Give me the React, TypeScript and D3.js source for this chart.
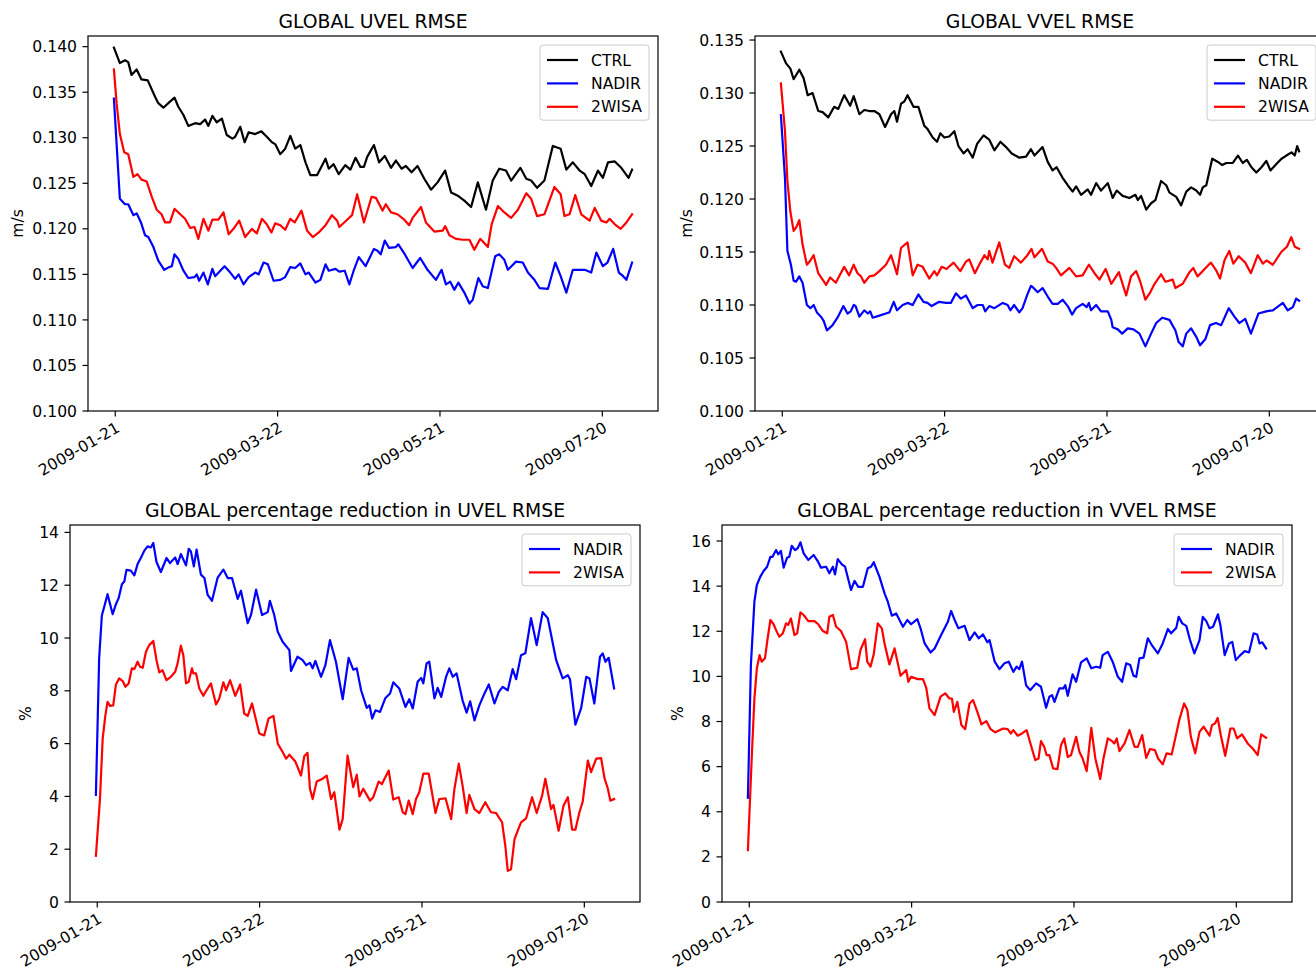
import React from "react";
import * as d3 from "d3";

// Day offsets are counted from 2009-01-21 (first labelled date).
type Pt = [number, number];

const uvelCtrl: Pt[] = [[-0.5,0.1399],[1.7,0.1382],[3.6,0.1385],[4.8,0.1383],[6,0.1369],[7.9,0.1375],[9.7,0.1364],[12,0.1363],[14.7,0.1345],[15.9,0.1338],[17.8,0.1333],[19.6,0.1338],[21.9,0.1344],[23.3,0.1334],[25.2,0.1325],[27,0.1313],[29.5,0.1316],[31.4,0.1315],[33.2,0.132],[34.4,0.1313],[35.9,0.1324],[37.5,0.1317],[39.4,0.1321],[41.2,0.1303],[43.3,0.1299],[44.3,0.1301],[46.2,0.1312],[47.8,0.1295],[49.3,0.1306],[51.7,0.1304],[54,0.1307],[56,0.1301],[57.9,0.1295],[59.1,0.1293],[61,0.1282],[62.8,0.1288],[64.7,0.1302],[66.5,0.1288],[68.4,0.1292],[70.3,0.1273],[72.1,0.1259],[74.6,0.1259],[75.8,0.1266],[77.7,0.1277],[78.9,0.1266],[80.7,0.1271],[82.6,0.126],[85,0.127],[86.9,0.1265],[88.8,0.1278],[90.6,0.1268],[91.9,0.1268],[93.1,0.1279],[95.6,0.1292],[97.5,0.1273],[99.6,0.128],[101.9,0.1267],[103.7,0.1275],[105.8,0.1266],[107.4,0.1269],[109.5,0.1262],[111.7,0.1269],[114.2,0.1255],[116.7,0.1243],[119.1,0.1251],[121.9,0.1264],[124.1,0.124],[126.8,0.1236],[129,0.1231],[131.5,0.1224],[134,0.1251],[137,0.1221],[139.5,0.1253],[141.9,0.1266],[144.4,0.1264],[146.3,0.1253],[149.7,0.1267],[151.9,0.1255],[153.7,0.1253],[155.9,0.1245],[158.6,0.1253],[161.7,0.1291],[164.6,0.1288],[166.7,0.1265],[169.1,0.1273],[171.6,0.1264],[173.5,0.126],[175.9,0.1247],[178.4,0.1264],[180.2,0.1256],[182.1,0.1273],[184.6,0.1274],[187,0.1267],[189.7,0.1256],[191,0.1265]];

const uvelNadir: Pt[] = [[-0.5,0.1343],[0.5,0.1293],[1.7,0.1233],[3.6,0.1227],[4.8,0.1227],[6.7,0.1215],[7.9,0.1217],[9.5,0.1207],[11,0.1193],[12.2,0.1191],[14.1,0.118],[15.9,0.1165],[18.1,0.1155],[19.9,0.1158],[20.9,0.1159],[21.9,0.1172],[23.3,0.1167],[25.2,0.1154],[27,0.1146],[29.3,0.1147],[30.1,0.115],[31,0.1143],[32.6,0.1152],[34.2,0.1139],[35.9,0.1156],[36.9,0.1148],[38.8,0.1154],[40.4,0.1159],[42.5,0.1152],[44.3,0.1145],[45.6,0.115],[47.4,0.1139],[49.3,0.1147],[51.7,0.1152],[53,0.115],[54.8,0.1163],[56.4,0.1161],[58.5,0.1143],[61,0.1144],[62.8,0.1147],[64.7,0.1158],[66.5,0.1157],[68.4,0.1162],[70.3,0.115],[71.5,0.1152],[74,0.1141],[75.8,0.1144],[77.7,0.1161],[78.9,0.1154],[81.4,0.1156],[82.8,0.1153],[84.8,0.1154],[86.5,0.1139],[88.1,0.1154],[90,0.1169],[92.5,0.1159],[95.6,0.1178],[96.9,0.1176],[98.1,0.1172],[99.6,0.1187],[101.2,0.1179],[103.7,0.118],[104.6,0.1183],[106.8,0.1173],[109.9,0.1157],[112.7,0.1168],[115.4,0.1155],[118.5,0.1144],[120.6,0.1155],[122.2,0.1139],[123.8,0.1142],[125.3,0.1133],[126.8,0.1141],[129,0.113],[130.9,0.1118],[132.1,0.1122],[134.2,0.1146],[135.8,0.1137],[137.7,0.1135],[140.4,0.117],[141.9,0.1172],[143.8,0.1166],[145.1,0.1155],[148.1,0.1164],[150.6,0.1163],[152.5,0.1152],[154.9,0.1144],[156.8,0.1135],[159.9,0.1134],[162.6,0.1163],[164.6,0.1148],[166.7,0.113],[169.1,0.1155],[171,0.1155],[173.5,0.1155],[175.9,0.1152],[177.8,0.1174],[180.2,0.1159],[181.9,0.1163],[184,0.1178],[186.1,0.1152],[187.7,0.1148],[188.9,0.1144],[191,0.1163]];

const uvel2wisa: Pt[] = [[-0.5,0.1375],[0.5,0.1338],[1.7,0.1304],[3.3,0.1284],[4.8,0.1282],[6.7,0.1257],[8.2,0.126],[9.7,0.1254],[11.6,0.1252],[13.5,0.1235],[15.3,0.1221],[17.1,0.1216],[18.4,0.1207],[20.2,0.1207],[21.9,0.1222],[24,0.1216],[25.8,0.1211],[27.7,0.1201],[29.3,0.1202],[30.7,0.1189],[32.6,0.1211],[34.4,0.1198],[35.9,0.121],[38.1,0.121],[40,0.1218],[41.9,0.1194],[43.7,0.12],[45.8,0.1209],[48,0.1191],[50.5,0.12],[52.3,0.1195],[54.2,0.1211],[56,0.1205],[57.7,0.1196],[59.1,0.1206],[61,0.1204],[62.8,0.1199],[64.7,0.1211],[66.3,0.1207],[68.8,0.122],[70.9,0.1198],[73,0.1191],[75.2,0.1196],[77.7,0.1204],[80.1,0.1215],[82,0.1209],[82.8,0.1202],[85,0.1208],[87.5,0.1215],[89.4,0.1238],[91.9,0.1207],[94.7,0.1235],[96.3,0.1234],[98.8,0.122],[100,0.1227],[101.9,0.1218],[104.3,0.1216],[106.8,0.121],[108.6,0.1204],[109.9,0.1212],[113,0.1224],[114.8,0.1207],[117.9,0.1197],[121,0.1198],[121.9,0.1203],[123.5,0.1193],[125.9,0.1189],[128.4,0.1188],[130.9,0.1188],[132.7,0.1177],[134.9,0.1189],[137.7,0.118],[139.1,0.1205],[141.4,0.1225],[143.8,0.1218],[146.3,0.1212],[148.8,0.1221],[151.9,0.1239],[153.7,0.1233],[155.9,0.1214],[158.6,0.1216],[162.3,0.1246],[164.6,0.1238],[166,0.1214],[167.9,0.1216],[170,0.1237],[172.2,0.1216],[175.3,0.1209],[177.2,0.1223],[179.6,0.1209],[181.5,0.1207],[182.7,0.1211],[184.6,0.1205],[186.8,0.12],[188.9,0.1207],[191,0.1216]];

const vvelCtrl: Pt[] = [[-0.5,0.1339],[1.4,0.1328],[3,0.1323],[4.2,0.1313],[6.3,0.1322],[7.9,0.1314],[9.4,0.1298],[11.2,0.13],[13.3,0.1283],[14.9,0.1282],[17,0.1277],[19.2,0.1287],[20.7,0.1285],[22.9,0.1298],[25.1,0.1288],[26.4,0.1297],[28.5,0.128],[30.3,0.1284],[32.2,0.1283],[34,0.1283],[35.9,0.128],[38,0.1268],[40.2,0.128],[41.4,0.1283],[42.4,0.1273],[43.9,0.129],[45.1,0.1292],[46.3,0.1298],[48.5,0.1287],[50.3,0.1287],[52.5,0.1269],[53.7,0.1266],[55.6,0.1258],[57.2,0.1254],[58.4,0.1262],[59.9,0.1258],[61.7,0.1259],[63.6,0.1264],[65.1,0.125],[67,0.1243],[68.5,0.1247],[70.4,0.1239],[72,0.1252],[74.4,0.126],[76.5,0.1256],[78.4,0.1246],[80.6,0.1254],[82.7,0.1249],[84.8,0.1243],[87.6,0.1239],[90.1,0.124],[91.9,0.1247],[93.2,0.1241],[96.2,0.1249],[98.1,0.1235],[99.9,0.1227],[101.4,0.123],[103.6,0.122],[105.5,0.1213],[107.3,0.1207],[108.6,0.1212],[110.4,0.1204],[112.9,0.1209],[114.1,0.1204],[116,0.1215],[117.8,0.1208],[120.3,0.1215],[122.1,0.1201],[123.6,0.1208],[125.8,0.1203],[128.3,0.1201],[130.5,0.1204],[131.4,0.1199],[132.6,0.1203],[134.5,0.119],[136.3,0.1196],[137.9,0.1199],[140,0.1217],[141.9,0.1213],[143.1,0.1206],[145.6,0.1202],[147.4,0.1194],[149.3,0.1207],[151.1,0.1211],[153,0.1208],[154.4,0.1204],[155.4,0.1211],[156.7,0.1213],[158.9,0.1238],[161,0.1235],[162.6,0.1232],[164.1,0.1234],[166.5,0.1234],[168.4,0.1241],[170.2,0.1234],[171.7,0.1237],[173.4,0.123],[175.2,0.1225],[177.1,0.123],[178.9,0.1236],[180.4,0.1227],[182.6,0.1233],[184.5,0.1238],[186.3,0.1241],[188.2,0.1244],[189.4,0.1241],[190.3,0.125],[191,0.1245]];

const vvelNadir: Pt[] = [[-0.5,0.1279],[1,0.122],[1.9,0.1151],[3.2,0.1138],[4.2,0.1123],[5.1,0.1122],[6.3,0.1127],[7.5,0.1121],[9.1,0.11],[10.4,0.1097],[11.6,0.11],[12.8,0.1093],[14.3,0.1089],[15.3,0.1085],[16.5,0.1076],[18.6,0.1081],[20.4,0.1088],[22.6,0.1099],[24.1,0.1092],[25.3,0.1094],[26.4,0.11],[27.1,0.1099],[28.5,0.1089],[30.3,0.1095],[31.6,0.1092],[32.5,0.1094],[33.4,0.1088],[35.9,0.109],[38.3,0.1092],[39.6,0.1093],[41.2,0.1103],[42.4,0.1095],[44.5,0.11],[46.3,0.1102],[48.2,0.11],[50.3,0.111],[52.2,0.1103],[53.7,0.1102],[55.2,0.1099],[58,0.1103],[60.5,0.1102],[62.3,0.1102],[64.2,0.1111],[66,0.1106],[67.9,0.1109],[70.4,0.1097],[72.2,0.11],[74.1,0.11],[75,0.1094],[76.5,0.1099],[78.4,0.1097],[81.5,0.1102],[83.3,0.11],[84.3,0.1095],[85.7,0.11],[87.6,0.1093],[88.8,0.1097],[90.6,0.111],[91.9,0.1118],[92.5,0.1117],[94.4,0.1112],[96.2,0.1116],[98.1,0.1108],[99.9,0.1101],[101.8,0.1101],[103.6,0.1105],[105.5,0.1099],[107.1,0.1091],[108.6,0.1097],[111,0.1101],[112.5,0.1098],[113.3,0.1102],[114.1,0.1095],[116,0.11],[117.8,0.1094],[120.3,0.1094],[121.6,0.1086],[122.1,0.1079],[124,0.1077],[125.6,0.1073],[127.7,0.1078],[129.8,0.1077],[132,0.1073],[134.2,0.1061],[136.3,0.1073],[138.2,0.1083],[140.4,0.1088],[143.1,0.1086],[145.3,0.1076],[146.5,0.1065],[148,0.1061],[149.3,0.1073],[151.1,0.1078],[153,0.107],[154.4,0.1062],[156.4,0.1068],[158.1,0.1081],[160.3,0.1083],[162.2,0.1081],[165,0.1097],[167.1,0.1089],[168.9,0.1083],[171.1,0.1087],[173.2,0.1073],[176,0.1092],[178.8,0.1094],[181.3,0.1095],[185,0.1102],[186.8,0.1095],[188.7,0.1098],[189.9,0.1106],[191,0.1104]];

const vvel2wisa: Pt[] = [[-0.5,0.1309],[1,0.1264],[1.9,0.1217],[3,0.1188],[4.2,0.117],[5.1,0.1173],[6.3,0.118],[7.5,0.1157],[9.1,0.1138],[10.4,0.1142],[11.6,0.1147],[13.3,0.113],[14.9,0.1124],[16.2,0.1119],[17.7,0.1126],[19.8,0.1121],[21.4,0.1129],[22.9,0.1136],[24.7,0.1128],[26.4,0.1138],[27.8,0.113],[29.1,0.1127],[30.3,0.1121],[32.2,0.1127],[34,0.1128],[35.9,0.1132],[38.3,0.1138],[40.2,0.1147],[42.4,0.1129],[43.9,0.1154],[46.3,0.1159],[48.2,0.1128],[50,0.1138],[51.9,0.1136],[54.3,0.1125],[56.2,0.1132],[57.2,0.1128],[58.9,0.1136],[60.7,0.1134],[63.3,0.114],[65.8,0.1132],[67.9,0.1141],[69.1,0.1143],[71.2,0.113],[73.2,0.114],[74.7,0.1147],[75.9,0.1143],[76.5,0.1151],[77.7,0.114],[80.2,0.1159],[82.3,0.1138],[83.9,0.1135],[85.7,0.1146],[88.2,0.114],[90.6,0.1147],[92.1,0.1153],[93.2,0.1145],[96,0.1153],[98.1,0.1141],[99.9,0.1139],[101.2,0.1135],[103,0.1128],[106.1,0.1135],[108.6,0.1127],[111,0.1128],[113.3,0.1138],[115.4,0.113],[117.2,0.1124],[119.5,0.1134],[121.6,0.112],[124.4,0.1131],[127.1,0.1109],[128.9,0.1127],[130.8,0.1132],[132.3,0.1122],[134.2,0.1105],[136,0.1112],[137.6,0.112],[140,0.1129],[141.6,0.1122],[144.3,0.1124],[145.3,0.1116],[148,0.112],[150.5,0.1131],[151.9,0.1135],[153.5,0.1127],[155.4,0.1132],[158.4,0.114],[160.3,0.1133],[161.8,0.1125],[163.4,0.1142],[165.2,0.1151],[166.7,0.1139],[168.7,0.1146],[171.1,0.114],[173.2,0.113],[175.7,0.1147],[177.6,0.1139],[179,0.1142],[181.3,0.1138],[184.4,0.115],[186.5,0.1155],[188.1,0.1164],[189.4,0.1155],[191,0.1153]];

const uPctNadir: Pt[] = [[-0.5,4.06],[0.7,9.23],[1.7,10.85],[2.6,11.19],[3.8,11.66],[5.7,10.9],[6.9,11.28],[7.9,11.51],[9.1,12.04],[10,12.14],[10.8,12.58],[12.4,12.55],[13.7,12.37],[14.9,12.8],[16.1,13.03],[17.4,13.31],[18.6,13.47],[19.8,13.43],[20.7,13.6],[21.9,12.88],[23.5,12.5],[25.6,13.03],[26.9,12.84],[28.8,13.05],[29.7,12.8],[30.9,13.18],[32.8,12.75],[33.8,13.38],[34.6,13.28],[35.7,12.71],[36.7,13.35],[38.3,12.4],[39.6,12.27],[40.8,11.63],[42.4,11.41],[44.5,12.29],[46.6,12.59],[48.2,12.27],[49.8,12.27],[51.9,11.48],[53.1,11.79],[55.6,10.56],[56.8,10.87],[58.7,11.83],[60.9,10.87],[63,10.98],[63.8,11.41],[65.4,10.87],[66.7,10.24],[68.5,9.86],[71,9.54],[71.6,8.75],[74,9.29],[75.9,9.16],[77.2,8.97],[78.6,9.06],[79.6,8.85],[80.6,9.13],[82.7,8.53],[84.3,8.97],[86,9.92],[88.2,9.1],[90.7,7.68],[92.9,9.25],[94.6,8.8],[95.9,8.85],[97.5,8.02],[99.6,7.35],[100.6,7.45],[101.6,6.95],[102.8,7.26],[104.5,7.2],[106.5,7.73],[108.2,7.9],[109.4,8.32],[111.6,8.09],[113.9,7.39],[115.3,7.68],[116.6,7.33],[118.4,8.34],[119.7,8.49],[120.5,8.28],[121.7,9.04],[122.7,9.1],[124.6,7.71],[125.8,8.11],[127.1,7.77],[128.9,8.53],[130.1,8.85],[131.4,8.53],[132.8,8.66],[135,7.64],[136.5,7.17],[137.8,7.6],[139.4,6.88],[141.2,7.45],[143.1,7.9],[144.7,8.24],[146.8,7.52],[148.4,7.96],[149.8,8.15],[151.7,8.02],[153.5,8.82],[154.8,8.44],[156.6,9.35],[158.2,9.42],[160.3,10.75],[162.4,9.73],[164.6,10.98],[166.5,10.75],[169.6,9.16],[172,8.47],[173.9,8.59],[174.7,8.44],[176.7,6.72],[178.8,7.33],[180.7,8.53],[181.9,8.47],[183.7,7.52],[185.8,9.29],[186.8,9.42],[187.8,9.1],[189,9.25],[191,8.09]];

const uPct2wisa: Pt[] = [[-0.5,1.75],[1,3.9],[2,6.19],[3,7.07],[3.8,7.58],[4.7,7.43],[5.9,7.45],[6.9,8.24],[8.1,8.47],[9.4,8.37],[10.4,8.15],[11.6,8.28],[12.8,8.85],[13.7,8.82],[14.9,9.1],[15.8,8.91],[16.8,8.87],[18,9.48],[19.2,9.73],[20.7,9.89],[21.9,9.16],[22.9,8.7],[24.1,8.78],[25.6,8.4],[27.2,8.53],[28.8,8.72],[29.7,9.04],[30.9,9.71],[31.8,9.35],[32.8,8.28],[33.8,8.34],[35,8.85],[35.5,8.66],[36.5,8.66],[37.7,8.09],[39.2,7.81],[40.4,8.02],[42,8.28],[43.9,7.48],[45.1,7.71],[46.6,8.32],[47.6,8.02],[49.1,8.4],[51,7.81],[52.8,8.24],[54.3,7.14],[55.6,7.05],[57.2,7.52],[59.9,6.38],[61.7,6.31],[63.3,6.95],[65.1,7.05],[66.7,6],[68.5,5.68],[69.8,5.43],[71,5.58],[73.2,5.32],[75.3,4.79],[76.5,5.52],[77.7,5.65],[78.6,4.29],[79.6,3.9],[81.1,4.56],[83.3,4.67],[84.8,4.79],[86.4,3.9],[87.6,4.16],[89.5,2.74],[90.7,3.14],[92.5,5.55],[94.6,4.35],[95.9,4.82],[96.9,4],[98.3,4.29],[100.8,3.84],[102,3.97],[104,4.56],[105.2,4.47],[107.7,4.98],[109.4,3.88],[111.4,3.97],[112.9,3.4],[113.9,3.33],[115.1,3.84],[116.6,3.33],[117.8,3.9],[119,4.16],[120.5,4.86],[122.5,4.86],[125,3.37],[126.4,3.9],[128.7,3.93],[130.8,3.14],[132,4.29],[133.6,5.24],[135,4.41],[136.5,3.37],[137.5,4.06],[139.4,3.52],[141.2,3.37],[143.4,3.78],[145.5,3.4],[147.4,3.37],[149.6,3.02],[150.8,2.13],[151.7,1.18],[152.9,1.24],[154.2,2.38],[155.4,2.7],[156.6,3.02],[158.5,3.17],[160.7,3.97],[162.4,3.37],[164.4,4.03],[165.6,4.67],[167.7,3.52],[168.6,3.68],[170.5,2.7],[172.3,3.65],[173.9,3.97],[175.5,2.74],[176.7,2.74],[178.2,3.4],[179.4,3.8],[181.3,5.36],[182.5,4.92],[184.4,5.43],[186.2,5.45],[187.5,4.67],[188.7,4.29],[189.6,3.84],[191,3.9]];

const vPctNadir: Pt[] = [[-0.5,4.62],[0.6,10.5],[1.9,13.31],[2.8,14.05],[4.1,14.42],[5.3,14.67],[6.6,14.86],[7.8,15.3],[8.6,15.3],[9.9,15.6],[10.7,15.41],[11.7,15.56],[12.7,14.82],[14,15.26],[14.8,15.3],[15.7,15.79],[16.9,15.6],[17.9,15.68],[18.9,15.94],[20.1,15.45],[21.8,15.16],[23.8,15.38],[25.3,15.11],[26.5,14.82],[28.4,14.86],[29.6,14.57],[30.9,14.86],[31.7,14.52],[32.7,15.2],[34.2,14.97],[35.4,14.86],[37.6,13.83],[38.9,14.23],[40.3,13.97],[42,13.97],[43.8,14.79],[45,14.86],[46,15.06],[48.1,14.42],[50,13.68],[51.2,13.31],[52.7,12.69],[54.3,12.79],[56.8,12.2],[58.4,12.5],[59.8,12.31],[62.1,12.54],[63.3,12.13],[64.8,11.46],[67,11.06],[68.5,11.24],[70.9,11.83],[73.4,12.42],[74.6,12.9],[75.9,12.5],[77.3,12.13],[79.6,12.24],[81.4,11.61],[83.3,11.95],[84.8,11.69],[86.4,11.86],[88,11.51],[88.8,11.61],[90.7,10.65],[92.5,10.32],[94.3,10.58],[95.9,10.65],[97.6,10.2],[98.8,10.43],[99.8,10.32],[100.8,10.65],[102.3,9.61],[103.8,9.39],[106,9.69],[107.8,9.54],[109.7,8.61],[110.9,9.1],[111.9,9.17],[112.8,8.87],[114.6,9.47],[116.1,9.47],[116.8,9.61],[117.7,9.14],[119.5,10.09],[120.8,9.76],[122.6,10.62],[124.7,10.8],[126.4,10.36],[128.2,10.43],[129.7,10.38],[130.6,10.94],[132.5,11.09],[134.3,10.65],[136.2,9.98],[137.8,9.76],[139.3,10.58],[140.8,10.5],[142,10.03],[143,9.98],[144.2,10.8],[145.7,10.83],[147.3,11.69],[148.9,11.36],[151,11.02],[152.8,11.46],[154.7,12.1],[155.9,11.91],[157.8,12.15],[158.7,12.64],[160,12.35],[161.5,12.24],[162.9,11.61],[164.5,11.02],[166.4,11.61],[167.6,12.64],[168.9,12.45],[170.1,12.13],[171.4,12.2],[173.2,12.75],[174.1,12.28],[175.7,10.94],[177.3,11.46],[178.5,11.53],[179.8,10.72],[181.2,10.91],[183.1,11.12],[184.7,11.06],[186.4,11.91],[187.7,11.86],[188.6,11.46],[189.6,11.51],[191,11.24]];

const vPct2wisa: Pt[] = [[-0.5,2.3],[0.9,6.36],[1.9,9.02],[2.8,10.35],[3.8,10.94],[4.6,10.65],[5.8,10.8],[6.8,11.69],[7.8,12.5],[9,12.31],[9.9,12.05],[11.1,11.76],[12.4,11.91],[13.6,12.35],[14.4,12.28],[15.4,12.57],[16.7,11.83],[17.7,11.91],[18.9,12.84],[20.1,12.72],[21.8,12.45],[24.1,12.45],[25.5,12.31],[27.2,12.01],[28.8,11.91],[29.6,12.64],[30.9,12.72],[32.1,12.2],[33.9,12.01],[35.8,11.53],[37.6,10.32],[39.9,10.38],[41.1,11.17],[42.8,11.65],[43.6,10.65],[44.8,10.43],[46,10.98],[47.5,12.35],[49,12.13],[50,11.46],[51.8,10.53],[53.7,11.24],[55.9,10.03],[58,10.28],[58.8,9.76],[59.8,9.98],[62.3,9.88],[64.2,9.88],[65.4,9.49],[66.6,8.58],[68.5,8.28],[70.7,9.1],[72.4,9.25],[74,9.02],[74.9,9.02],[75.6,8.43],[76.9,8.87],[78.4,7.84],[79.8,7.66],[81.4,8.8],[82.7,8.95],[84.3,8.43],[85.8,7.87],[87.6,8.02],[89.2,7.66],[90.9,7.52],[93.8,7.69],[95.5,7.66],[96.7,7.47],[97.6,7.62],[99.2,7.37],[100.8,7.47],[102.5,7.62],[104.1,6.95],[105.7,6.29],[106.9,6.36],[107.8,7.13],[109,6.88],[109.9,6.51],[110.9,6.51],[112.3,5.92],[113.9,5.89],[115.2,6.95],[116.4,7.25],[117.7,6.43],[118.9,6.51],[120.8,7.32],[122,6.66],[123.2,6.36],[124.7,5.8],[126.4,7.72],[127.9,6.36],[129.7,5.45],[130.9,6.36],[132.5,7.25],[134.1,7.13],[134.9,7.03],[135.8,7.25],[136.8,6.69],[138.7,7.03],[140.5,7.62],[142.4,6.88],[143.6,6.88],[145.2,7.4],[146.7,6.39],[148.1,6.78],[149.9,6.73],[151.1,6.36],[152.8,6.1],[154.2,6.59],[156.1,6.54],[157.3,7.18],[158.9,8.06],[160.7,8.8],[161.9,8.51],[163.2,7.32],[164.8,6.59],[166.4,7.54],[167.9,7.77],[170.1,7.37],[171,7.84],[172.2,7.92],[173.1,8.16],[174.3,7.37],[175.9,6.48],[177.8,7.69],[179,7.69],[180.3,7.25],[182.1,7.43],[184.2,7.03],[186.2,6.78],[187.9,6.51],[189.2,7.43],[191,7.28]];

// Tick values and labels
const dateTickLabels = ["2009-01-21", "2009-03-22", "2009-05-21", "2009-07-20"];
const uvelTicks = [0.1, 0.105, 0.11, 0.115, 0.12, 0.125, 0.13, 0.135, 0.14];
const vvelTicks = [0.1, 0.105, 0.11, 0.115, 0.12, 0.125, 0.13, 0.135];
const uPctTicks = [0, 2, 4, 6, 8, 10, 12, 14];
const vPctTicks = [0, 2, 4, 6, 8, 10, 12, 14, 16];

const BASE = Date.UTC(2009, 0, 21);
const toDate = (d: number) => new Date(BASE + d * 864e5);
const parseTick = d3.utcParse("%Y-%m-%d");
const fmtTick = d3.utcFormat("%Y-%m-%d");

const FONT = "DejaVu Sans, Liberation Sans, sans-serif";
const TICK_FS = 15.6;
const TITLE_FS = 18.8;
const COLORS = { CTRL: "#000000", NADIR: "#0000ff", "2WISA": "#ff0000" } as Record<string, string>;

interface Series { name: string; data: Pt[] }
interface PanelSpec {
  title: string;
  ylabel: string;
  ylabelX: number;
  left: number;
  top: number;
  width: number;
  height: number;
  yMax: number;
  yMin: number;
  yTicks: number[];
  yFmt: (v: number) => string;
  series: Series[];
}

const panels: PanelSpec[] = [
  {
    title: "GLOBAL UVEL RMSE", ylabel: "m/s", ylabelX: 23,
    left: 88, top: 36, width: 570, height: 375,
    yMin: 0.1, yMax: 0.14117, yTicks: uvelTicks, yFmt: d3.format(".3f"),
    series: [
      { name: "CTRL", data: uvelCtrl },
      { name: "NADIR", data: uvelNadir },
      { name: "2WISA", data: uvel2wisa },
    ],
  },
  {
    title: "GLOBAL VVEL RMSE", ylabel: "m/s", ylabelX: 692,
    left: 755, top: 36, width: 570, height: 375,
    yMin: 0.1, yMax: 0.13538, yTicks: vvelTicks, yFmt: d3.format(".3f"),
    series: [
      { name: "CTRL", data: vvelCtrl },
      { name: "NADIR", data: vvelNadir },
      { name: "2WISA", data: vvel2wisa },
    ],
  },
  {
    title: "GLOBAL percentage reduction in UVEL RMSE", ylabel: "%", ylabelX: 31,
    left: 70, top: 525, width: 570, height: 377,
    yMin: 0, yMax: 14.28, yTicks: uPctTicks, yFmt: d3.format("d"),
    series: [
      { name: "NADIR", data: uPctNadir },
      { name: "2WISA", data: uPct2wisa },
    ],
  },
  {
    title: "GLOBAL percentage reduction in VVEL RMSE", ylabel: "%", ylabelX: 683,
    left: 722, top: 525, width: 570, height: 377,
    yMin: 0, yMax: 16.71, yTicks: vPctTicks, yFmt: d3.format("d"),
    series: [
      { name: "NADIR", data: vPctNadir },
      { name: "2WISA", data: vPct2wisa },
    ],
  },
];

function Panel({ p }: { p: PanelSpec }) {
  const right = p.left + p.width;
  const bottom = p.top + p.height;
  const allDays = p.series.flatMap((s) => s.data.map((d) => d[0]));
  const [d0, d1] = d3.extent(allDays) as [number, number];
  const pad = (d1 - d0) * 0.05;
  const x = d3.scaleUtc().domain([toDate(d0 - pad), toDate(d1 + pad)]).range([p.left, right]);
  const y = d3.scaleLinear().domain([p.yMin, p.yMax]).range([bottom, p.top]);
  const line = d3
    .line<Pt>()
    .x((d) => x(toDate(d[0])))
    .y((d) => y(d[1]));

  const legendW = 109;
  const rowH = 23.4;
  const legendH = 5 + rowH * p.series.length;
  const lx = right - 9 - legendW;
  const ly = p.top + 9;
  const clipId = `clip-${p.left}-${p.top}`;

  return (
    <g>
      <defs>
        <clipPath id={clipId}>
          <rect x={p.left} y={p.top} width={p.width} height={p.height} />
        </clipPath>
      </defs>
      <g clipPath={`url(#${clipId})`}>
        {p.series.map((s) => (
          <path
            key={s.name}
            d={line(s.data) || ""}
            fill="none"
            stroke={COLORS[s.name]}
            strokeWidth={2.2}
            strokeLinejoin="round"
            strokeLinecap="square"
          />
        ))}
      </g>
      <rect x={p.left} y={p.top} width={p.width} height={p.height} fill="none" stroke="#000" strokeWidth={1.2} />
      {p.yTicks.map((t) => (
        <g key={t}>
          <line x1={p.left - 5.5} x2={p.left} y1={y(t)} y2={y(t)} stroke="#000" strokeWidth={1.2} />
          <text x={p.left - 11} y={y(t)} dy="0.36em" textAnchor="end" fontSize={TICK_FS} fontFamily={FONT} fill="#000">
            {p.yFmt(t)}
          </text>
        </g>
      ))}
      {dateTickLabels.map((lbl) => {
        const dt = parseTick(lbl) as Date;
        const tx = x(dt);
        return (
          <g key={lbl}>
            <line x1={tx} x2={tx} y1={bottom} y2={bottom + 5.5} stroke="#000" strokeWidth={1.2} />
            <text
              transform={`translate(${tx},${bottom + 10}) rotate(-30)`}
              dy="0.73em"
              textAnchor="end"
              fontSize={TICK_FS}
              fontFamily={FONT}
              fill="#000"
            >
              {fmtTick(dt)}
            </text>
          </g>
        );
      })}
      <text x={(p.left + right) / 2} y={p.top - 8.5} textAnchor="middle" fontSize={TITLE_FS} fontFamily={FONT} fill="#000">
        {p.title}
      </text>
      <text
        transform={`translate(${p.ylabelX},${(p.top + bottom) / 2}) rotate(-90)`}
        textAnchor="middle"
        fontSize={TICK_FS}
        fontFamily={FONT}
        fill="#000"
      >
        {p.ylabel}
      </text>
      <g>
        <rect x={lx} y={ly} width={legendW} height={legendH} rx={3} ry={3} fill="#fff" fillOpacity={0.8} stroke="#cccccc" strokeWidth={1} />
        {p.series.map((s, i) => {
          const ry = ly + 15 + i * rowH;
          return (
            <g key={s.name}>
              <line x1={lx + 7} x2={lx + 38} y1={ry} y2={ry} stroke={COLORS[s.name]} strokeWidth={2.2} />
              <text x={lx + 51} y={ry} dy="0.36em" fontSize={TICK_FS} fontFamily={FONT} fill="#000">
                {s.name}
              </text>
            </g>
          );
        })}
      </g>
    </g>
  );
}

export default function App() {
  return (
    <svg
      width={1316}
      height={971}
      viewBox="0 0 1316 971"
      style={{ position: "absolute", left: 0, top: 0, background: "#fff" }}
    >
      <rect x={0} y={0} width={1316} height={971} fill="#fff" />
      {panels.map((p) => (
        <Panel key={p.title} p={p} />
      ))}
    </svg>
  );
}
